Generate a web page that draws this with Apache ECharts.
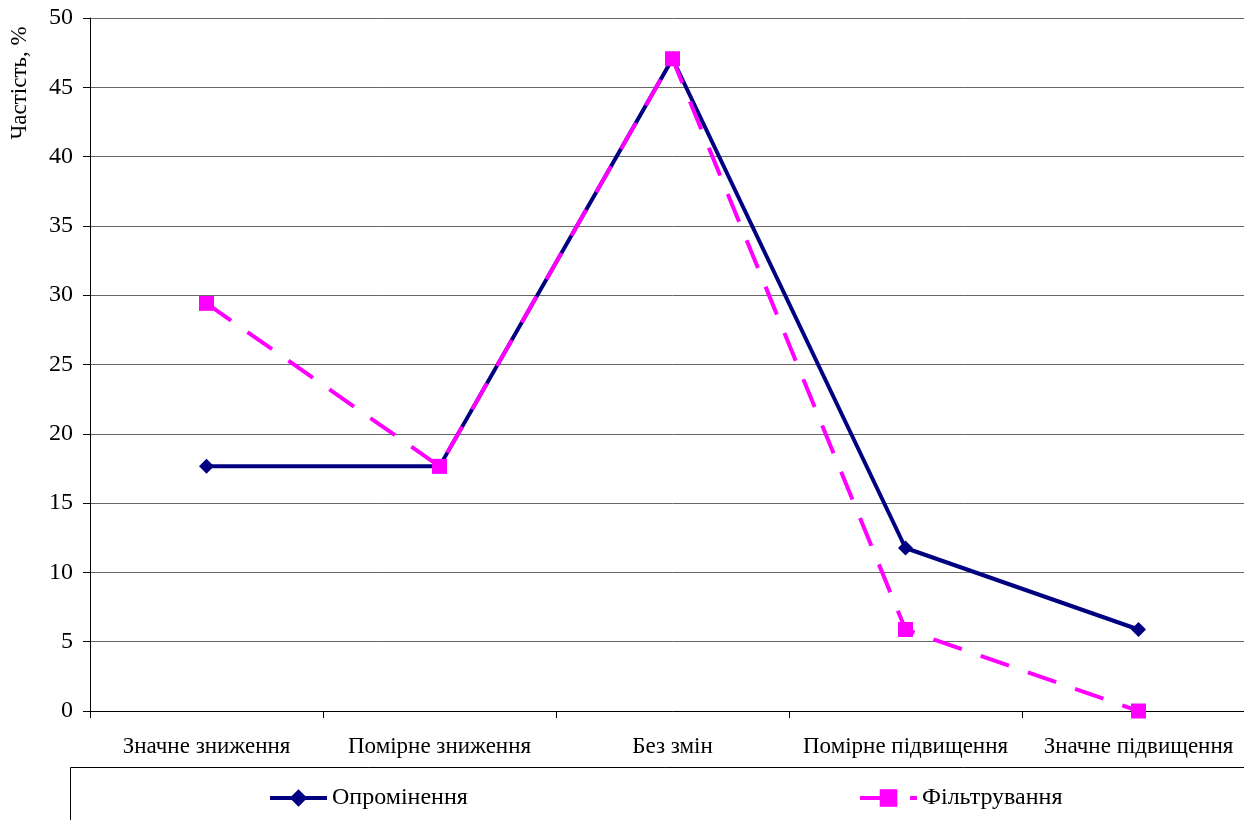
<!DOCTYPE html>
<html>
<head>
<meta charset="utf-8">
<script src="https://cdn.jsdelivr.net/npm/echarts@6/dist/echarts.min.js"></script>
<style>html,body{margin:0;padding:0;background:#fff;overflow:hidden}#c{width:1260px;height:820px}</style>
</head>
<body>
<div id="c"></div>
<script>
const categories = ['Значне зниження', 'Помірне зниження', 'Без змін', 'Помірне підвищення', 'Значне підвищення'];
const irradiation = [17.65, 17.65, 47.06, 11.76, 5.88];
const filtering = [29.41, 17.65, 47.06, 5.88, 0];
const seriesNames = ['Опромінення', 'Фільтрування'];
const yTitle = 'Частість, %';

const font = 'Liberation Serif, Times New Roman, serif';
const chart = echarts.init(document.getElementById('c'), null, {renderer: 'canvas'});
chart.setOption({
  animation: false,
  backgroundColor: '#fff',
  textStyle: {fontFamily: font, color: '#000'},
  grid: {left: 90, top: 18, width: 1165, height: 693},
  xAxis: {
    type: 'category', data: categories, boundaryGap: true,
    axisLine: {lineStyle: {color: '#000', width: 1}},
    axisTick: {show: true, length: 7, lineStyle: {color: '#000'}},
    axisLabel: {fontSize: 23, fontFamily: font, color: '#000', margin: 24, interval: 0}
  },
  yAxis: {
    type: 'value', min: 0, max: 50, interval: 5,
    axisLine: {show: true, lineStyle: {color: '#000', width: 1}},
    axisTick: {show: true, length: 7, lineStyle: {color: '#000'}},
    axisLabel: {fontSize: 24, fontFamily: font, color: '#000', margin: 17},
    splitLine: {lineStyle: {color: '#666', width: 1}}
  },
  legend: [
    {data: [seriesNames[0]], left: 268, top: 786, padding: 0, itemWidth: 57, itemHeight: 22,
     lineStyle: {width: 4},
     textStyle: {fontSize: 24, fontFamily: font, color: '#000'}},
    {data: [seriesNames[1]], left: 858, top: 786, padding: 0, itemWidth: 57, itemHeight: 22,
     lineStyle: {width: 4},
     textStyle: {fontSize: 24, fontFamily: font, color: '#000'}}
  ],
  graphic: [
    {type: 'text', x: 20, y: 83, rotation: Math.PI / 2,
     style: {text: yTitle, font: '23px ' + font, fill: '#000', align: 'center', verticalAlign: 'middle'}},
    {type: 'rect', shape: {x: 70.5, y: 767.5, width: 1200, height: 100},
     style: {fill: 'none', stroke: '#000', lineWidth: 1}}
  ],
  series: [
    {name: seriesNames[0], type: 'line', data: irradiation,
     symbol: 'diamond', symbolSize: 15,
     itemStyle: {color: '#000080'},
     lineStyle: {color: '#000080', width: 4}},
    {name: seriesNames[1], type: 'line', data: filtering,
     symbol: 'rect', symbolSize: 15,
     itemStyle: {color: '#ff00ff'},
     lineStyle: {color: '#ff00ff', width: 4, type: [30, 20]}}
  ]
});
</script>
</body>
</html>
